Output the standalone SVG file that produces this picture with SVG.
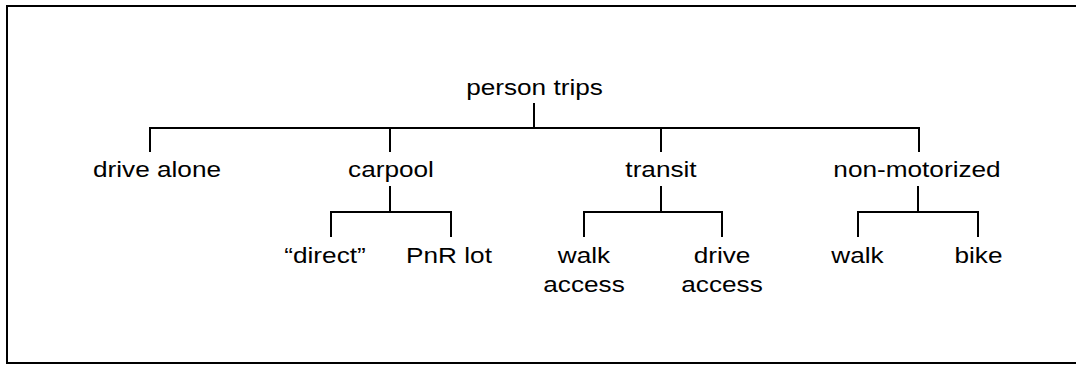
<svg xmlns="http://www.w3.org/2000/svg" width="1076" height="365" viewBox="0 0 1076 365">
<style>
text{font-family:"Liberation Sans",Arial,sans-serif;font-size:22px;fill:#000;text-anchor:middle}
.c{fill:none;stroke:#000;stroke-width:2}
</style>
<rect width="1076" height="365" fill="#fff"/>
<path class="c" d="M1077,6H7V363H1077"/>
<g id="connectors">
<path class="c" d="M534,103V128M150,152V128H919V152M390,128V152M661,128V152"/>
<path class="c" d="M390,186V212M331,237V212H451V237"/>
<path class="c" d="M661,186V212M584,237V212H722V237"/>
<path class="c" d="M918,186V212M858,237V212H978V237"/>
</g>
<g id="person-trips"><text transform="translate(534.5,95) scale(1.19,1)">person trips</text></g>
<g id="drive-alone"><text transform="translate(157,177) scale(1.19,1)">drive alone</text></g>
<g id="carpool"><text transform="translate(391,177) scale(1.19,1)">carpool</text></g>
<g id="transit"><text transform="translate(661,177) scale(1.19,1)">transit</text></g>
<g id="non-motorized"><text transform="translate(917,177) scale(1.19,1)">non-motorized</text></g>
<g id="direct"><text transform="translate(325,263) scale(1.19,1)">“direct”</text></g>
<g id="pnr-lot"><text transform="translate(449,263) scale(1.19,1)">PnR lot</text></g>
<g id="walk-access"><text transform="translate(584,263) scale(1.19,1)">walk</text><text transform="translate(584,292) scale(1.19,1)">access</text></g>
<g id="drive-access"><text transform="translate(722,263) scale(1.19,1)">drive</text><text transform="translate(722,292) scale(1.19,1)">access</text></g>
<g id="walk"><text transform="translate(857.5,263) scale(1.19,1)">walk</text></g>
<g id="bike"><text transform="translate(978.5,263) scale(1.19,1)">bike</text></g>
</svg>
